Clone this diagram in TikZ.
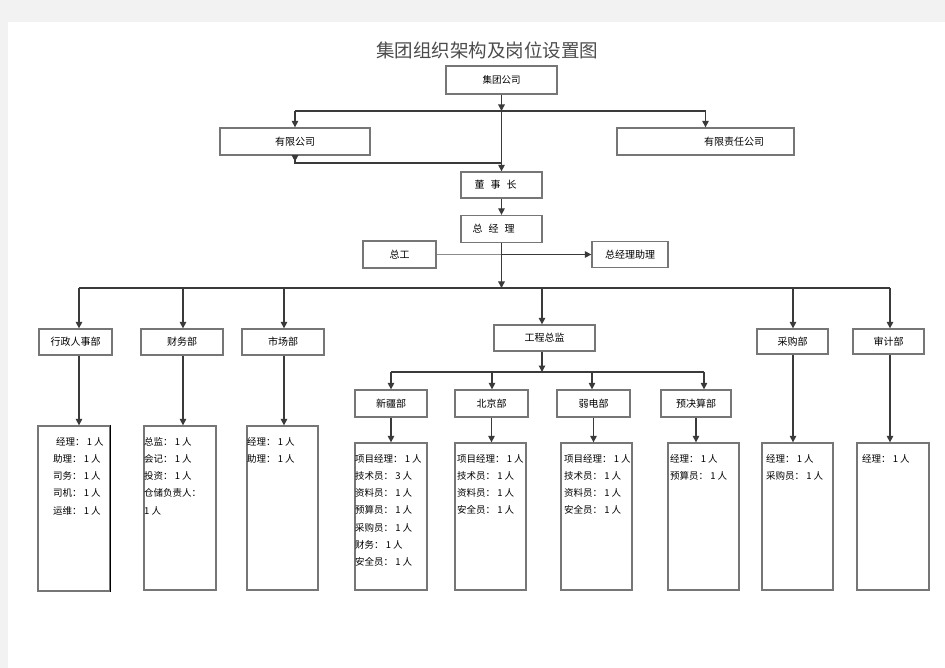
\documentclass[tikz,border=0pt]{standalone}
\usepackage{fontspec}
\setmainfont{Noto Sans CJK SC}
\usetikzlibrary{arrows.meta}
\definecolor{pagebg}{HTML}{F2F2F2}
\definecolor{boxline}{HTML}{767676}
\definecolor{conline}{HTML}{3A3A3A}
\begin{document}
\begin{tikzpicture}[x=1pt,y=-1pt,
  box/.style={draw=boxline,line width=1.3pt,fill=white,inner sep=0pt,font=\fontsize{10}{12}\selectfont},
  conn/.style={draw=conline,line width=1.3pt},
  faint/.style={draw=black!45,line width=0.8pt},
  arr/.style={conn,-{Triangle[length=6.5pt,width=6.5pt]}},
  info/.style={anchor=north west,inner sep=0pt,align=left,font=\fontsize{9.5}{17.1}\selectfont}]
\useasboundingbox (0,0) rectangle (945,668);
\fill[pagebg] (0,0) rectangle (945,668);
\fill[white] (8,22) rectangle (945,668);

\node[font=\fontsize{18.5}{20}\selectfont,text=black!70,inner sep=0pt] (title) at (487,50) {集团组织架构及岗位设置图};

% top level
\node[box,minimum width=111pt,minimum height=28pt,font=\fontsize{9.5}{11}\selectfont] (jt) at (501.5,80) {集团公司};
\node[box,minimum width=150pt,minimum height=27pt] (yx) at (295,141.5) {有限公司};
\node[box,minimum width=177pt,minimum height=27pt] (yxzr) at (705.5,141.5) {\hspace*{57pt}有限责任公司};
\node[box,minimum width=81pt,minimum height=26pt] (dsz) at (501.5,185) {董\hspace{6pt}事\hspace{6pt}长\hspace*{12pt}};
\node[box,minimum width=81pt,minimum height=27pt] (zjl) at (501.5,229) {总\hspace{6pt}经\hspace{6pt}理\hspace*{16pt}};
\node[box,minimum width=73pt,minimum height=27pt] (zg) at (399.5,254.5) {总工};
\node[box,minimum width=76pt,minimum height=26pt] (zjlzl) at (630,254.5) {总经理助理};

\coordinate (j1) at (501.5,111);
\coordinate (j2) at (501.5,163);
\coordinate (j3) at (501.5,254.5);
\coordinate (j4) at (501.5,288);

\draw[arr] (jt.south) -- (j1);
\draw[conn] (yx.north |- j1) -- (yxzr.north |- j1);
\draw[arr] (yx.north |- j1) -- (yx.north);
\draw[arr] (yxzr.north |- j1) -- (yxzr.north);
\draw[arr] (j1) -- (dsz.north);
\draw[conn] (yx.south) -- (yx.south |- j2) -- (j2);
\draw[arr] (yx.south) -- ++(0,6);
\draw[arr] (dsz.south) -- (zjl.north);
\draw[faint] (zg.east) -- (j3);
\draw[arr] (j3) -- (zjlzl.west);
\draw[arr] (zjl.south) -- (j4);

% department bus
\coordinate (b1) at (79,288);
\coordinate (b2) at (183,288);
\coordinate (b3) at (284,288);
\coordinate (b4) at (542,288);
\coordinate (b5) at (793,288);
\coordinate (b6) at (890,288);
\draw[conn] (b1) -- (b6);

\node[box,minimum width=73pt,minimum height=26pt] (xz) at (75.5,342) {行政人事部};
\node[box,minimum width=82pt,minimum height=26pt] (cw) at (182,342) {财务部};
\node[box,minimum width=82pt,minimum height=26pt] (sc) at (283,342) {市场部};
\node[box,minimum width=101pt,minimum height=26pt] (gc) at (544.5,338) {工程总监};
\node[box,minimum width=71pt,minimum height=25pt] (cg) at (792.5,341.5) {采购部};
\node[box,minimum width=71pt,minimum height=25pt] (sj) at (888.5,341.5) {审计部};

\draw[arr] (b1) -- (b1 |- xz.north);
\draw[arr] (b2) -- (b2 |- cw.north);
\draw[arr] (b3) -- (b3 |- sc.north);
\draw[arr] (b4) -- (b4 |- gc.north);
\draw[arr] (b5) -- (b5 |- cg.north);
\draw[arr] (b6) -- (b6 |- sj.north);

% detail boxes of departments
\node[box,minimum width=72pt,minimum height=165pt] (d1) at (74,508.5) {};
\node[box,minimum width=72pt,minimum height=164pt] (d2) at (180,508) {};
\node[box,minimum width=71pt,minimum height=164pt] (d3) at (282.5,508) {};
\node[box,minimum width=71pt,minimum height=147pt] (f1) at (797.5,516.5) {};
\node[box,minimum width=72pt,minimum height=147pt] (f2) at (893,516.5) {};
\draw[black,line width=1.6pt] (d1.north east) -- (d1.south east);

\draw[arr] (b1 |- xz.south) -- (b1 |- d1.north);
\draw[arr] (b2 |- cw.south) -- (b2 |- d2.north);
\draw[arr] (b3 |- sc.south) -- (b3 |- d3.north);
\draw[arr] (b5 |- cg.south) -- (b5 |- f1.north);
\draw[arr] (b6 |- sj.south) -- (b6 |- f2.north);

% engineering sub-departments
\coordinate (s0) at (542,372);
\coordinate (s1) at (391,372);
\coordinate (s2) at (492,372);
\coordinate (s3) at (592,372);
\coordinate (s4) at (704,372);
\draw[arr] (b4 |- gc.south) -- (s0);
\draw[conn] (s1) -- (s4);

\node[box,minimum width=72pt,minimum height=27pt] (xj) at (391,403.5) {新疆部};
\node[box,minimum width=73pt,minimum height=27pt] (bj) at (491.5,403.5) {北京部};
\node[box,minimum width=73pt,minimum height=27pt] (rd) at (593.5,403.5) {弱电部};
\node[box,minimum width=70pt,minimum height=27pt] (yjs) at (696,403.5) {预决算部};

\draw[arr] (s1) -- (s1 |- xj.north);
\draw[arr] (s2) -- (s2 |- bj.north);
\draw[arr] (s3) -- (s3 |- rd.north);
\draw[arr] (s4) -- (s4 |- yjs.north);

\node[box,minimum width=72pt,minimum height=147pt] (e1) at (391,516.5) {};
\node[box,minimum width=71pt,minimum height=147pt] (e2) at (490.5,516.5) {};
\node[box,minimum width=71pt,minimum height=147pt] (e3) at (596.5,516.5) {};
\node[box,minimum width=71pt,minimum height=147pt] (e4) at (703.5,516.5) {};

\draw[arr] (xj.south) -- (xj.south |- e1.north);
\draw[arr] (bj.south) -- (bj.south |- e2.north);
\draw[arr] (rd.south) -- (rd.south |- e3.north);
\draw[arr] (yjs.south) -- (yjs.south |- e4.north);

% texts in detail boxes
\node[info] (t1) at (53,437.5) {\hspace*{3pt}经理： 1 人\\助理： 1 人\\司务： 1 人\\司机： 1 人\\运维： 1 人};
\node[info] (t2) at (144,437.5) {总监： 1 人\\会记： 1 人\\投资： 1 人\\仓储负责人：\\1 人};
\node[info] (t3) at (247,437.5) {经理： 1 人\\助理： 1 人};
\node[info] (u1) at (355,454.5) {项目经理： 1 人\\技术员： 3 人\\资料员： 1 人\\预算员： 1 人\\采购员： 1 人\\财务： 1 人\\安全员： 1 人};
\node[info] (u2) at (457,454.5) {项目经理： 1 人\\技术员： 1 人\\资料员： 1 人\\安全员： 1 人};
\node[info] (u3) at (564,454.5) {项目经理： 1 人\\技术员： 1 人\\资料员： 1 人\\安全员： 1 人};
\node[info] (u4) at (670,454.5) {经理： 1 人\\预算员： 1 人};
\node[info] (v1) at (766,454.5) {经理： 1 人\\采购员： 1 人};
\node[info] (v2) at (862,454.5) {经理： 1 人};
\end{tikzpicture}
\end{document}
